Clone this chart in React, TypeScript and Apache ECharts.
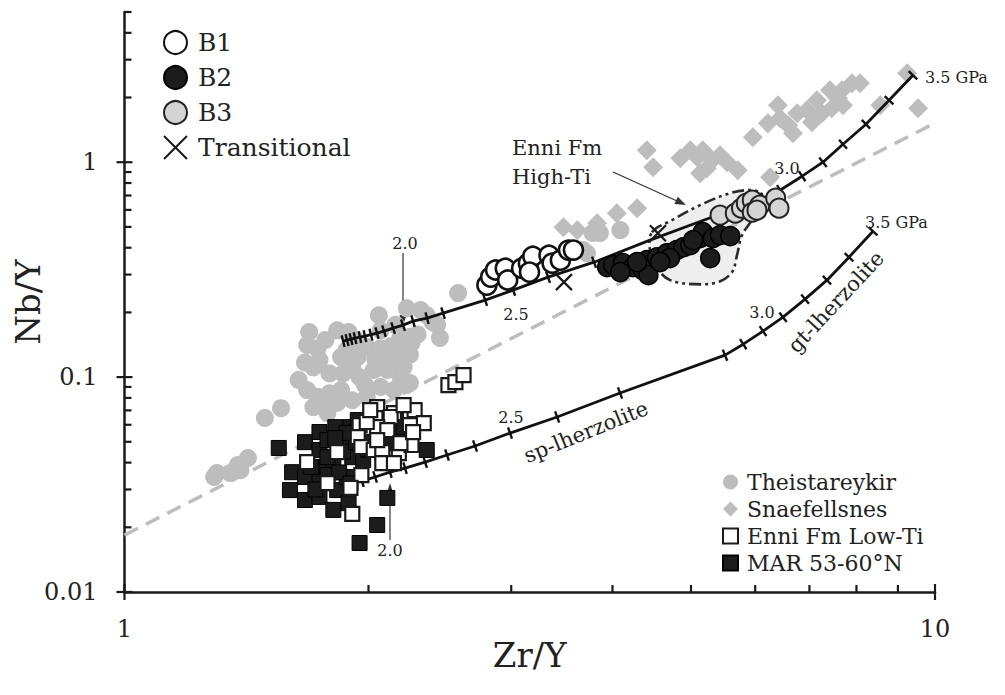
import React, { useEffect, useRef } from "react";
import * as echarts from "echarts";

const FONT = '"DejaVu Serif", serif';
const TEXT = "#222222";

// ---- axes ----
const X_MIN = 1;
const X_MAX = 10;
const Y_MIN = 0.01;
const Y_MAX = 5;
const xMajorTicks = [1, 10];
const xMinorTicks = [2, 3, 4, 5, 6, 7, 8, 9];
const yMajorTicks = [0.01, 0.1, 1];
const yMinorTicks = [0.02, 0.03, 0.04, 0.05, 0.06, 0.07, 0.08, 0.09, 0.2, 0.3, 0.4, 0.5, 0.6, 0.7, 0.8, 0.9, 2, 3, 4, 5];

// ---- data (Zr/Y, Nb/Y) ----
const theistareykir = [
  [1.69, 0.162], [1.83, 0.165], [1.89, 0.162], [2.06, 0.194], [2.23, 0.209], [2.32, 0.205], [2.40, 0.180], [2.45, 0.152], [2.25, 0.154], [2.19, 0.152],
  [1.68, 0.141], [1.73, 0.136], [1.67, 0.117], [1.71, 0.111], [1.64, 0.097], [1.68, 0.087], [1.73, 0.081], [1.71, 0.0725], [1.78, 0.068], [1.79, 0.104],
  [1.85, 0.124], [1.88, 0.134], [1.94, 0.124], [1.99, 0.138], [2.07, 0.136], [2.15, 0.124], [2.25, 0.127], [2.21, 0.111], [2.19, 0.100], [2.25, 0.094],
  [2.15, 0.087], [2.07, 0.090], [1.99, 0.081], [1.91, 0.078], [1.85, 0.087], [1.79, 0.084], [1.86, 0.104], [1.95, 0.100], [2.03, 0.108], [2.11, 0.108],
  [1.91, 0.111], [1.83, 0.076], [1.76, 0.076], [2.07, 0.165], [2.30, 0.158], [2.26, 0.144], [2.21, 0.131], [2.13, 0.139], [2.11, 0.111], [2.23, 0.092],
  [2.13, 0.120], [2.36, 0.194], [2.43, 0.175], [1.74, 0.120], [1.98, 0.092], [2.04, 0.120], [2.16, 0.175], [1.93, 0.149], [1.77, 0.149],
  [1.56, 0.0717], [1.49, 0.0645], [1.42, 0.042], [1.38, 0.039], [1.35, 0.0358], [1.30, 0.0358], [1.29, 0.0343], [1.39, 0.0369],
  [2.58, 0.246], [3.68, 0.390], [3.78, 0.468], [3.86, 0.468], [4.09, 0.483], [3.72, 0.377], [3.55, 0.398],
];

const snaefellsnes = [
  [3.48, 0.498], [3.62, 0.483], [3.83, 0.520], [4.05, 0.579], [4.29, 0.611], [4.41, 1.137], [4.49, 0.948], [4.85, 1.044], [5.09, 1.055], [5.17, 1.137],
  [5.31, 1.022], [5.43, 1.078], [5.13, 0.889], [5.71, 0.918], [5.96, 1.307], [6.22, 1.518], [6.44, 1.602], [6.40, 1.841], [6.68, 1.364], [6.76, 1.690],
  [6.95, 1.745], [7.15, 1.943], [7.42, 2.162], [7.68, 2.162], [7.90, 2.330], [8.08, 2.330], [7.25, 1.690], [7.46, 1.783], [7.70, 1.841], [8.56, 1.841],
  [9.24, 2.594], [9.53, 1.783], [6.26, 0.852], [6.59, 1.486], [7.05, 1.535], [7.59, 1.985], [5.54, 1.0], [5.23, 0.938], [4.99, 1.137],
];

const enniLowTi = [
  [2.05, 0.0725], [2.15, 0.068], [2.25, 0.068], [2.28, 0.0702], [2.34, 0.0611], [2.25, 0.0598], [2.13, 0.0652], [2.04, 0.0645], [1.95, 0.0598], [1.94, 0.0526],
  [2.05, 0.0585], [2.11, 0.0567], [1.96, 0.0472], [2.03, 0.0458], [2.08, 0.0448], [2.18, 0.0443], [2.26, 0.0483], [2.19, 0.0493], [2.08, 0.0398], [2.15, 0.0398],
  [1.96, 0.035], [1.90, 0.0305], [1.91, 0.0231], [1.83, 0.0448], [1.78, 0.0321], [1.68, 0.0402], [2.05, 0.0509], [1.99, 0.0618], [2.27, 0.0555],
  [2.51, 0.0918], [2.56, 0.0948], [2.62, 0.1022], [2.21, 0.0741], [2.01, 0.0702],
];

const mar = [
  [1.55, 0.0468], [1.67, 0.0498], [1.61, 0.0361], [1.60, 0.0298], [1.67, 0.0268], [1.67, 0.0343], [1.74, 0.0555], [1.74, 0.0458], [1.74, 0.0382], [1.74, 0.0321],
  [1.74, 0.0277], [1.82, 0.0585], [1.85, 0.0493], [1.81, 0.0398], [1.83, 0.0298], [1.81, 0.0241], [1.89, 0.0259], [1.90, 0.0585], [1.94, 0.0631], [1.91, 0.0424],
  [1.88, 0.0343], [1.97, 0.0411], [2.11, 0.0493], [2.17, 0.0567], [2.21, 0.0585], [2.36, 0.0458], [2.11, 0.0274], [2.05, 0.0205], [1.95, 0.0169], [1.78, 0.0509],
  [1.78, 0.0424], [1.70, 0.0382], [1.86, 0.045], [1.93, 0.050], [1.88, 0.055], [1.78, 0.035], [1.84, 0.036], [1.98, 0.050], [2.00, 0.046], [1.72, 0.030],
  [1.90, 0.032], [1.82, 0.052],
];

const b1 = [
  [2.80, 0.268], [2.83, 0.292], [2.87, 0.315], [2.95, 0.321], [2.97, 0.283], [3.09, 0.321], [3.15, 0.339], [3.19, 0.365], [3.34, 0.369], [3.37, 0.339],
  [3.45, 0.350], [3.53, 0.390], [3.58, 0.390], [3.16, 0.308],
];

const b2 = [
  [3.94, 0.325], [4.01, 0.332], [4.12, 0.339], [4.24, 0.325], [4.36, 0.315], [4.41, 0.350], [4.54, 0.361], [4.67, 0.377], [4.80, 0.390], [4.89, 0.402],
  [4.99, 0.411], [5.13, 0.443], [5.17, 0.473], [5.32, 0.443], [5.43, 0.458], [5.59, 0.453], [5.28, 0.358], [4.43, 0.298], [4.09, 0.308], [4.71, 0.358],
  [4.58, 0.343], [4.29, 0.343], [5.03, 0.434],
];

const b3 = [
  [5.43, 0.567], [5.67, 0.579], [5.77, 0.611], [5.85, 0.645], [5.95, 0.666], [5.95, 0.585], [6.08, 0.631], [6.36, 0.680], [6.42, 0.611], [6.03, 0.598],
];

const transitional = [
  [3.485, 0.2766], [4.551, 0.4675],
];

// melting curves (vertices; ticks mark pressure steps)
const upperCurve = [
  [1.861, 0.147], [1.882, 0.1486], [1.903, 0.1502], [1.925, 0.1518], [1.952, 0.1535], [1.98, 0.1551], [2.014, 0.1576], [2.049, 0.1602], [2.09, 0.1637], [2.145, 0.169],
  [2.206, 0.1745], [2.27, 0.1822], [2.362, 0.1881], [2.472, 0.1984], [2.786, 0.2281], [3.016, 0.2539], [3.331, 0.2918], [3.796, 0.3425], [4.45, 0.4337], [5.384, 0.5668],
  [6.136, 0.6801], [6.438, 0.7408], [6.856, 0.8608], [7.274, 1.0], [7.7, 1.213], [8.219, 1.502], [8.776, 1.943], [9.393, 2.54],
];
const upperCurveVertexOnly = [4.45, 5.384];

const lowerCurve = [
  [1.963, 0.0328], [2.038, 0.0343], [2.126, 0.0361], [2.219, 0.0377], [2.349, 0.0402], [2.5, 0.0434], [2.707, 0.0478], [2.99, 0.0549], [3.418, 0.0652], [4.087, 0.0843],
  [5.507, 0.1265], [5.8, 0.1423], [6.135, 0.1637], [6.494, 0.19], [6.914, 0.2306], [7.357, 0.2825], [7.832, 0.3614], [8.385, 0.4775],
];

const referenceLine = [
  [1, 0.0184], [10, 1.52],
];

const highTiField = [
  [4.475, 0.4725], [4.737, 0.5372], [5.13, 0.631], [5.586, 0.7177], [5.946, 0.7408], [6.118, 0.7023], [5.997, 0.5668], [5.78, 0.4575], [5.698, 0.3694],
  [5.618, 0.3079], [5.4, 0.2766], [5.057, 0.2707], [4.711, 0.2826], [4.54, 0.3214], [4.45, 0.3897],
];

const legendTop = ["B1", "B2", "B3", "Transitional"];
const legendBottom = ["Theistareykir", "Snaefellsnes", "Enni Fm Low-Ti", "MAR 53-60°N"];

function isPow10(v: number) {
  const l = Math.log10(v);
  return Math.abs(l - Math.round(l)) < 1e-6;
}

export default function App() {
  const ref = useRef<HTMLDivElement>(null);

  useEffect(() => {
    if (!ref.current) return;
    const chart = echarts.init(ref.current, null, { renderer: "svg" });

    // tick data: [x, y, orientation (0 = x axis, 1 = y axis), kind (0 minor, 1 major)]
    const tickData = [
      ...xMinorTicks.map((v) => [v, Y_MIN, 0, 0]),
      ...xMajorTicks.map((v) => [v, Y_MIN, 0, 1]),
      ...yMinorTicks.map((v) => [X_MIN, v, 1, 0]),
      ...yMajorTicks.map((v) => [X_MIN, v, 1, 1]),
    ];

    const curveStyle = {
      type: "line",
      symbol: "rect",
      symbolSize: [2.4, 12],
      showSymbol: true,
      showAllSymbol: true,
      lineStyle: { color: "#111", width: 2.8 },
      itemStyle: { color: "#111" },
      silent: true,
      z: 4,
    };

    const labelFmt = (v: number) => (isPow10(v) ? String(parseFloat(v.toPrecision(4))) : "");

    const option: any = {
      animation: false,
      backgroundColor: "#ffffff",
      textStyle: { fontFamily: FONT },
      grid: { left: 124.5, right: 70, top: 12, bottom: 103, outerBoundsMode: "none", containLabel: false },
      xAxis: {
        type: "log",
        logBase: 10,
        min: X_MIN,
        max: X_MAX,
        axisLine: { show: true, onZero: false, lineStyle: { color: "#1a1a1a", width: 2.5 } },
        axisTick: { show: false },
        minorTick: { show: false },
        splitLine: { show: false },
        axisLabel: { fontSize: 24, fontFamily: FONT, color: TEXT, margin: 25, formatter: labelFmt },
        name: "Zr/Y",
        nameLocation: "middle",
        nameGap: 46,
        nameMoveOverlap: false,
        nameTextStyle: { fontSize: 34, fontFamily: FONT, color: TEXT },
      },
      yAxis: {
        type: "log",
        logBase: 10,
        min: Y_MIN,
        max: Y_MAX,
        axisLine: { show: true, onZero: false, lineStyle: { color: "#1a1a1a", width: 2.5 } },
        axisTick: { show: false },
        minorTick: { show: false },
        splitLine: { show: false },
        axisLabel: { fontSize: 24, fontFamily: FONT, color: TEXT, margin: 27, formatter: labelFmt },
        name: "Nb/Y",
        nameLocation: "middle",
        nameRotate: 90,
        nameGap: 80,
        nameMoveOverlap: false,
        nameTextStyle: { fontSize: 34, fontFamily: FONT, color: TEXT },
      },
      legend: [
        {
          data: legendTop,
          orient: "vertical",
          left: 163,
          top: 30,
          padding: 0,
          itemWidth: 23,
          itemHeight: 23,
          itemGap: 10,
          selectedMode: false,
          textStyle: { fontSize: 25, fontFamily: FONT, color: TEXT, padding: [0, 0, 0, 6] },
        },
        {
          data: legendBottom,
          orient: "vertical",
          left: 722,
          top: 471,
          padding: 0,
          itemWidth: 15,
          itemHeight: 15,
          itemGap: 5,
          selectedMode: false,
          textStyle: { fontSize: 22, fontFamily: FONT, color: TEXT, padding: [0, 0, 0, 4] },
        },
      ],
      series: [
        {
          id: "field",
          type: "custom",
          silent: true,
          z: 1,
          data: [0],
          renderItem: (_p: any, api: any) => ({
            type: "polygon",
            shape: { points: highTiField.map((pt) => api.coord(pt)), smooth: 0.35 },
            style: { fill: "#eeeeee", stroke: "#2a2a2a", lineWidth: 2.6, lineDash: [12, 4, 3, 4, 3, 4] },
          }),
        },
        {
          id: "ref",
          type: "line",
          data: referenceLine,
          symbol: "none",
          silent: true,
          z: 2,
          lineStyle: { color: "#bdbdbd", width: 3.5, type: [15, 9] },
        },
        {
          name: "Theistareykir",
          type: "scatter",
          data: theistareykir,
          symbol: "circle",
          symbolSize: 18,
          itemStyle: { color: "#bdbdbd", opacity: 1 },
          z: 3,
        },
        {
          name: "Snaefellsnes",
          type: "scatter",
          data: snaefellsnes,
          symbol: "diamond",
          symbolSize: 20,
          itemStyle: { color: "#bdbdbd", opacity: 1 },
          z: 3,
        },
        { ...curveStyle, id: "upper", data: upperCurve },
        { ...curveStyle, id: "lower", data: lowerCurve },
        {
          name: "MAR 53-60°N",
          type: "scatter",
          data: mar,
          symbol: "rect",
          symbolSize: 15,
          itemStyle: { color: "#1c1c1c", borderColor: "#000", borderWidth: 1, opacity: 1 },
          z: 5,
        },
        {
          name: "Enni Fm Low-Ti",
          type: "scatter",
          data: enniLowTi,
          symbol: "rect",
          symbolSize: 14,
          itemStyle: { color: "#ffffff", borderColor: "#1a1a1a", borderWidth: 2.2, opacity: 1 },
          z: 6,
        },
        {
          name: "B1",
          type: "scatter",
          data: b1,
          symbol: "circle",
          symbolSize: 19,
          itemStyle: { color: "#ffffff", borderColor: "#111", borderWidth: 2.6, opacity: 1 },
          z: 7,
        },
        {
          name: "B2",
          type: "scatter",
          data: b2,
          symbol: "circle",
          symbolSize: 19,
          itemStyle: { color: "#1c1c1c", borderColor: "#000", borderWidth: 1.5, opacity: 1 },
          z: 7,
        },
        {
          name: "B3",
          type: "scatter",
          data: b3,
          symbol: "circle",
          symbolSize: 19,
          itemStyle: { color: "#d4d4d4", borderColor: "#222", borderWidth: 2, opacity: 1 },
          z: 7,
        },
        {
          name: "Transitional",
          type: "scatter",
          data: transitional,
          symbol: "path://M0,0L10,10M10,0L0,10",
          symbolSize: 16,
          itemStyle: { color: "rgba(0,0,0,0)", borderColor: "#1a1a1a", borderWidth: 2.2, opacity: 1 },
          z: 8,
        },
        {
          id: "ticks",
          type: "custom",
          silent: true,
          z: 9,
          data: tickData,
          encode: { x: 0, y: 1 },
          renderItem: (_p: any, api: any) => {
            const pt = api.coord([api.value(0), api.value(1)]);
            const onY = api.value(2) === 1;
            const major = api.value(3) === 1;
            const shape = onY
              ? { x1: major ? pt[0] - 8 : pt[0], y1: pt[1], x2: pt[0] + (major ? 8 : 7), y2: pt[1] }
              : { x1: pt[0], y1: major ? pt[1] + 8 : pt[1], x2: pt[0], y2: pt[1] - (major ? 8 : 7) };
            return { type: "line", shape, style: { stroke: "#1a1a1a", lineWidth: 2.2 } };
          },
        },
      ],
      graphic: [
        // upper curve labels
        { type: "text", x: 405, y: 243, style: { text: "2.0", fontSize: 16, fontFamily: FONT, fill: TEXT, align: "center", verticalAlign: "middle" } },
        { type: "line", shape: { x1: 403, y1: 253, x2: 403, y2: 316 }, style: { stroke: "#333", lineWidth: 1.2 } },
        { type: "polygon", shape: { points: [[403, 326], [399.5, 315], [406.5, 315]] }, style: { fill: "#333" } },
        { type: "text", x: 516, y: 314, style: { text: "2.5", fontSize: 16, fontFamily: FONT, fill: TEXT, align: "center", verticalAlign: "middle" } },
        { type: "text", x: 787, y: 168, style: { text: "3.0", fontSize: 16, fontFamily: FONT, fill: TEXT, align: "center", verticalAlign: "middle" } },
        { type: "text", x: 925, y: 77, style: { text: "3.5 GPa", fontSize: 16, fontFamily: FONT, fill: TEXT, align: "left", verticalAlign: "middle" } },
        // lower curve labels
        { type: "text", x: 390, y: 550, style: { text: "2.0", fontSize: 16, fontFamily: FONT, fill: TEXT, align: "center", verticalAlign: "middle" } },
        { type: "line", shape: { x1: 390, y1: 540, x2: 390, y2: 494 }, style: { stroke: "#333", lineWidth: 1.2 } },
        { type: "polygon", shape: { points: [[390, 483], [386, 496], [394, 496]] }, style: { fill: "#333" } },
        { type: "text", x: 511, y: 417, style: { text: "2.5", fontSize: 16, fontFamily: FONT, fill: TEXT, align: "center", verticalAlign: "middle" } },
        { type: "text", x: 762, y: 312, style: { text: "3.0", fontSize: 16, fontFamily: FONT, fill: TEXT, align: "center", verticalAlign: "middle" } },
        { type: "text", x: 865, y: 222, style: { text: "3.5 GPa", fontSize: 16, fontFamily: FONT, fill: TEXT, align: "left", verticalAlign: "middle" } },
        {
          type: "text", x: 586, y: 432, rotation: (22 * Math.PI) / 180,
          style: { text: "sp-lherzolite", fontSize: 21, fontFamily: FONT, fill: TEXT, align: "center", verticalAlign: "middle" },
        },
        {
          type: "text", x: 836, y: 302, rotation: (47 * Math.PI) / 180,
          style: { text: "gt-lherzolite", fontSize: 21, fontFamily: FONT, fill: TEXT, align: "center", verticalAlign: "middle" },
        },
        // Enni Fm High-Ti
        { type: "text", x: 512, y: 148, style: { text: "Enni Fm", fontSize: 21, fontFamily: FONT, fill: TEXT, align: "left", verticalAlign: "middle" } },
        { type: "text", x: 512, y: 177, style: { text: "High-Ti", fontSize: 21, fontFamily: FONT, fill: TEXT, align: "left", verticalAlign: "middle" } },
        { type: "line", shape: { x1: 613, y1: 172, x2: 677, y2: 201 }, style: { stroke: "#333", lineWidth: 1.2 } },
        { type: "polygon", shape: { points: [[686, 205], [674.4, 203.9], [677.8, 196.7]] }, style: { fill: "#333" } },
      ],
    };

    chart.setOption(option);

    // rotate the pressure ticks so they stay perpendicular to each curve
    const withRotation = (pts: number[][], skip: number[]) => {
      const px = pts.map((p) => chart.convertToPixel({ gridIndex: 0 }, p) as unknown as number[]);
      return pts.map((p, i) => {
        const a = px[Math.max(0, i - 1)];
        const b = px[Math.min(px.length - 1, i + 1)];
        const ang = (Math.atan2(-(b[1] - a[1]), b[0] - a[0]) * 180) / Math.PI;
        const item: any = { value: p, symbolRotate: ang };
        if (skip.indexOf(p[0]) >= 0) item.symbol = "none";
        return item;
      });
    };
    chart.setOption({
      series: [
        { id: "upper", data: withRotation(upperCurve, upperCurveVertexOnly) },
        { id: "lower", data: withRotation(lowerCurve, []) },
      ],
    });

    return () => chart.dispose();
  }, []);

  return <div ref={ref} style={{ position: "absolute", left: 0, top: 0, width: 1005, height: 695 }} />;
}
